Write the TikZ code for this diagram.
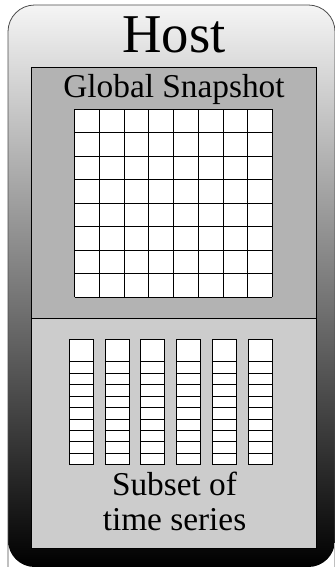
\documentclass[tikz,border=0pt]{standalone}
\usepackage{fontspec}
\setmainfont{Liberation Serif}
\usepackage{xcolor}
\usetikzlibrary{positioning}

\definecolor{snapgray}{RGB}{179,179,179}
\definecolor{seriesgray}{RGB}{204,204,204}

\begin{document}
\begin{tikzpicture}[x=0.75pt,y=-0.75pt]
\useasboundingbox (0,0) rectangle (335,567);
\def\gx{74.7}
\def\gy{109.3}
\pgfmathsetmacro{\cw}{(272.3-74.7)/8}
\pgfmathsetmacro{\ch}{(297.3-109.3)/8}
\pgfmathsetmacro{\sh}{(464.7-361.7)/9}

\shade[top color=white!96!black, bottom color=black, rounded corners=20pt]
    (8,5) rectangle (335,567);
\draw[black!70, line width=0.6pt, rounded corners=20pt]
    (8,567) -- (8,5) -- (335,5) -- (335,567);

\draw[black, line width=0.6pt, fill=snapgray] (31,67) rectangle (316,318);
\draw[black, line width=0.6pt, fill=seriesgray] (31,318) rectangle (316,548);

\fill[white] (\gx,\gy) rectangle (272.3,297.3);
\foreach \i in {0,...,8}{
    \draw[black, line width=0.6pt]
        (\gx+\i*\cw,\gy) -- (\gx+\i*\cw,297.3);
    \draw[black, line width=0.6pt]
        (\gx,\gy+\i*\ch) -- (272.3,\gy+\i*\ch);
}

\foreach \k in {0,...,5}{
    \pgfmathsetmacro{\xl}{69+\k*35.9}
    \draw[black, line width=0.6pt, fill=white]
        (\xl,339.3) rectangle (\xl+24,464.7);
    \foreach \j in {0,...,8}{
        \draw[black, line width=0.6pt]
            (\xl,361.7+\j*\sh) -- (\xl+24,361.7+\j*\sh);
    }
}

\node[font=\fontsize{41}{45}\selectfont, anchor=base, inner sep=0pt]
    (host) at (174,53) {Host};
\node[font=\fontsize{25}{28}\selectfont, anchor=base, inner sep=0pt]
    (snapshot) at (174,97) {Global Snapshot};
\node[font=\fontsize{25}{28}\selectfont, anchor=base, inner sep=0pt]
    (subset) at (174.5,495) {Subset of};
\node[font=\fontsize{25}{28}\selectfont, anchor=base, inner sep=0pt]
    (series) at (174.5,530) {time series};
\end{tikzpicture}
\end{document}
